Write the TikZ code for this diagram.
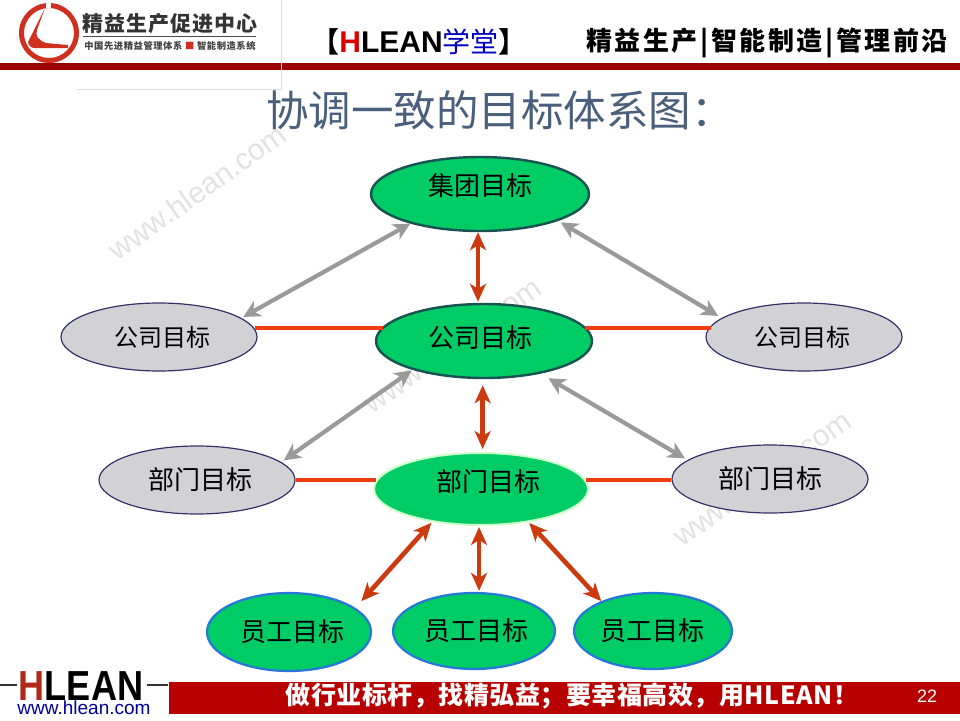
\documentclass[tikz,border=0pt]{standalone}
\usepackage{fontspec}
\usepackage{xcolor}
\setmainfont{Noto Sans CJK SC}
\newfontfamily\lat{Liberation Sans}
\usetikzlibrary{shapes.geometric,arrows.meta}
\definecolor{barred}{HTML}{B80000}
\definecolor{lred}{HTML}{D03020}
\definecolor{ggreen}{HTML}{00CC66}
\definecolor{ggray}{HTML}{D2D2D6}
\definecolor{darrow}{HTML}{CC3A10}
\definecolor{oline}{HTML}{F23C12}
\definecolor{garrow}{HTML}{9A9A9A}
\definecolor{wm}{HTML}{E2E2E2}
\definecolor{titlec}{HTML}{4A5F7C}
\newcommand{\fs}[1]{\fontsize{#1}{#1}\selectfont}
\tikzset{
 x=1pt,y=-1pt,
 goal/.style={ellipse,inner sep=0pt,text=black,font=\fs{26}},
 graygoal/.style={goal,fill=ggray,draw=black!65!blue!60!gray,line width=1.2pt},
 topgoal/.style={goal,fill=ggreen,draw=black!45!teal!80!gray,line width=2.4pt},
 deptgoal/.style={goal,fill=ggreen,draw=green!20!white,line width=2pt},
 staffgoal/.style={goal,fill=ggreen,draw=blue!55!cyan!70!gray,line width=2.2pt},
 greyarrow/.style={draw=garrow,fill=garrow,line width=4.2pt,{Stealth[length=17pt,width=17pt,inset=5pt]}-{Stealth[length=17pt,width=17pt,inset=5pt]}},
 redarrow/.style={draw=darrow,fill=darrow,line width=4.6pt,{Stealth[length=18pt,width=16pt,inset=5pt]}-{Stealth[length=18pt,width=16pt,inset=5pt]}},
 linkline/.style={draw=oline,line width=4pt},
 mark text/.style={text=wm,font=\lat\fs{30},rotate=35.5,inner sep=0pt},
 plain/.style={inner sep=0pt}
}
\begin{document}
\begin{tikzpicture}
\useasboundingbox (0,0) rectangle (960,720);
% header
\fill[barred!85!black] (0,63) rectangle (960,70);
\draw[black!13,line width=1pt] (281,0) -- (281,89) -- (77,89);
\fill[lred,even odd rule] (49,33) circle (30) (49,33) circle (25);
\fill[white] (46,0) rectangle (51,8);
\fill[lred] (45,8) -- (28,42) .. controls (29,46) and (31,48) .. (35,48) -- (68,48) -- (68,45) -- (46,43) .. controls (38,40) and (35,36) .. (37,30) -- cycle;
\node[plain,text=black!80,font=\bfseries\fs{21}] (logo) at (170,24) {\addfontfeature{LetterSpace=5}精益生产促进中心};
\draw[black!70,line width=.7pt] (83,36) -- (256,36);
\node[plain,text=black!75,font=\bfseries\fs{9.3}] (logosub) at (170,46) {\addfontfeature{LetterSpace=6}中国先进精益管理体系 \textcolor{lred}{■} 智能制造系统};
\node[plain,font=\bfseries\fs{28}] (hl) at (419,42) {【\textcolor{red!85!black}{\lat\fs{30}H}{\lat\fs{30}LEAN}\textcolor{blue!75!black}{\mdseries 学堂}】};
\node[plain,font=\bfseries\fs{26},text=black] (slogan) at (767,43) {\addfontfeature{LetterSpace=10}精益生产|智能制造|管理前沿};
\node[plain,text=titlec,font=\fs{42.5}] (title) at (500,110) {协调一致的目标体系图：};
% watermarks
\node[mark text] (w1) at (197,192) {www.hlean.com};
\node[mark text] (w2) at (452,345) {www.hlean.com};
\node[mark text] (w3) at (762,478) {www.hlean.com};
% goals
\node[topgoal,minimum width=218pt,minimum height=74pt] (a) at (480,194) {\raisebox{18pt}{集团目标}};
\node[graygoal,minimum width=196pt,minimum height=68pt,font=\fs{24}] (b1) at (159,337) {\hspace*{6pt}公司目标};
\node[topgoal,minimum width=216pt,minimum height=74pt] (m) at (484,341) {\raisebox{8pt}{公司目标}\hspace*{8pt}};
\node[graygoal,minimum width=196pt,minimum height=68pt,font=\fs{24}] (c1) at (804,337) {公司目标\hspace*{4pt}};
\node[graygoal,minimum width=196pt,minimum height=68pt] (b2) at (197,480) {\hspace*{6pt}\raisebox{-6pt}{部门目标}};
\node[deptgoal,minimum width=214pt,minimum height=72pt] (d) at (481,489) {\hspace*{14pt}\raisebox{17pt}{部门目标}};
\node[graygoal,minimum width=196pt,minimum height=68pt] (c2) at (770,479) {\raisebox{-8pt}{部门目标}};
\node[staffgoal,minimum width=164pt,minimum height=78pt] (e1) at (289,632) {\hspace*{6pt}\raisebox{-3pt}{员工目标}};
\node[staffgoal,minimum width=162pt,minimum height=76pt] (e2) at (474,631) {\hspace*{4pt}\raisebox{-3pt}{员工目标}};
\node[staffgoal,minimum width=158pt,minimum height=76pt] (e3) at (653,631) {\raisebox{-3pt}{员工目标}\hspace*{2pt}};
% level links
\draw[linkline] (b1.5 |- 0,328) -- (m.172 |- 0,328);
\draw[linkline] (m.8 |- 0,328) -- (c1.173 |- 0,328);
\draw[linkline] (b2.east |- 0,480) -- (d.175 |- 0,480);
\draw[linkline] (d.5 |- 0,480) -- (c2.west |- 0,480);
% arrows
\draw[greyarrow,shorten <=0pt,shorten >=2pt] (a.203) -- (b1.13);
\draw[greyarrow,shorten <=3pt,shorten >=4pt] (a.341) -- (c1.167);
\draw[redarrow,shorten <=0pt,shorten >=1pt] (a.267) -- (a.267 |- m.north);
\draw[greyarrow,shorten <=1pt,shorten >=3pt] (m.202) -- (b2.12);
\draw[greyarrow,shorten <=9pt,shorten >=3pt] (m.330) -- (c2.167);
\draw[redarrow,shorten <=6pt,shorten >=3pt] (m.268) -- (m.268 |- d.north);
\draw[redarrow,shorten <=1pt,shorten >=9pt] (d.214) -- (e1.20);
\draw[redarrow,shorten <=1pt,shorten >=1pt] (d.267) -- (d.267 |- e2.north);
\draw[redarrow,shorten <=1pt,shorten >=0pt] (d.325) -- (e3.150);
% footer
\fill[barred] (169,682) rectangle (960,714);
\node[plain,text=white,font=\bfseries\fs{25}] (foot) at (572,696) {\addfontfeature{LetterSpace=2}做行业标杆，找精弘益；要幸福高效，用HLEAN！};
\node[plain,text=white,font=\lat\fs{18}] (page) at (927,696) {22};
\node[plain,font=\lat\bfseries\fs{42}] (hb) at (81,686) {\scalebox{.86}[1]{\textcolor{lred!85!black}{H}LEAN}};
\draw[black!80,line width=1.6pt] (0,685) -- (17,685);
\draw[black!80,line width=1.6pt] (147,685) -- (168,685);
\node[plain,text=blue!60!black,font=\lat\fs{19}] (url) at (84,708) {www.hlean.com};
\end{tikzpicture}
\end{document}
